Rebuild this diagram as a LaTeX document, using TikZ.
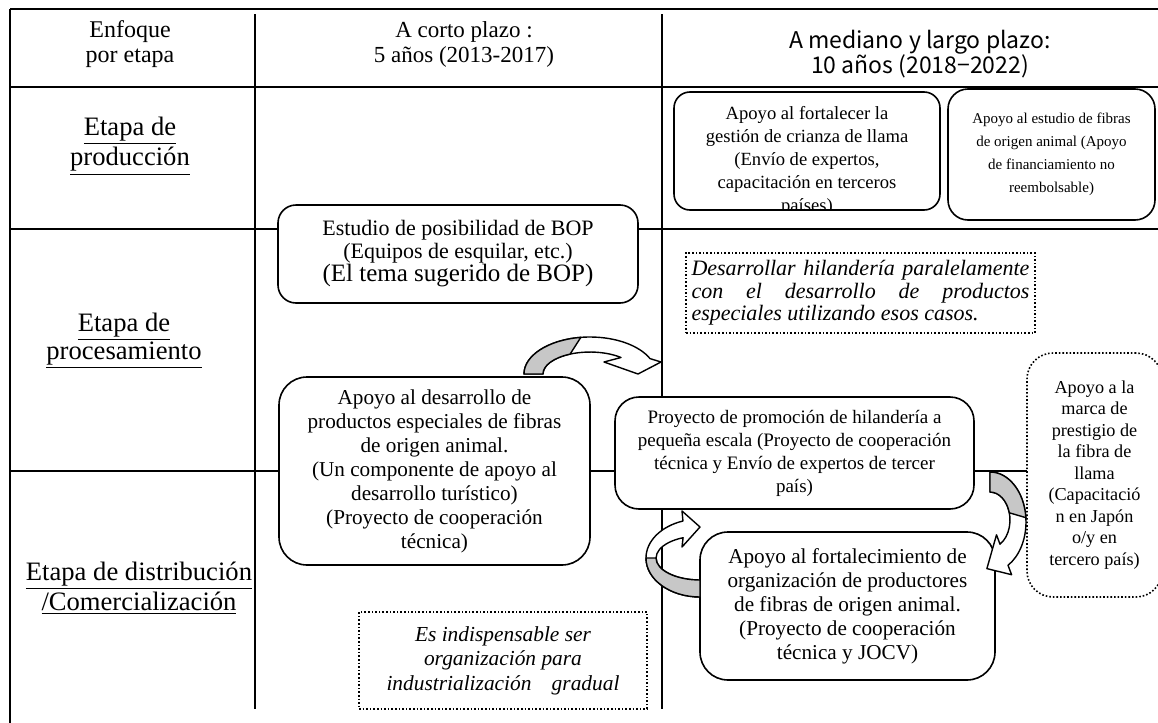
\documentclass[tikz,border=0pt]{standalone}
\usepackage{fontspec}
\setmainfont{Liberation Serif}
\newfontfamily\gothfont{Noto Sans CJK JP}

\begin{document}
\begin{tikzpicture}[x=0.5pt,y=-0.5pt,
  frame/.style={line width=0.9pt},
  rbox/.style={draw,line width=0.8pt,fill=white,rounded corners=#1,inner sep=0pt,align=center},
  rbox/.default=8pt,
  notebox/.style={draw,densely dotted,line width=0.8pt,fill=white,inner sep=0pt,align=center},
  stage/.style={font=\fontsize{13.3}{14}\selectfont,align=center},
  ribbon/.style={draw,line width=0.7pt,fill=white,line join=round},
  back/.style={draw,line width=0.7pt,fill=black!22,line join=round}]

\useasboundingbox (0,0) rectangle (1158,723);

% cuadro
\draw[frame] (10,9) -- (1158,9);
\draw[frame] (10,9) -- (10,723);
\draw[frame] (255,14) -- (255,709);
\draw[frame] (662,14) -- (662,709);
\draw[frame] (10,87) -- (1158,87);
\draw[frame] (10,229) -- (1158,229);
\draw[frame] (10,471) -- (1158,471);

% encabezados
\node[font=\fontsize{12}{12.5}\selectfont,align=center] (enfoque) at (130,44) {Enfoque\\por etapa};
\node[font=\fontsize{11.5}{12.5}\selectfont,align=center] (corto) at (464,44) {A corto plazo :\\5 años (2013-2017)};
\node[font=\gothfont\fontsize{11.5}{12.5}\selectfont,align=center] (largo) at (920,54) {A mediano y largo plazo:\\10 años (2018−2022)};

% etapas
\node[stage] (prod) at (130,146) {\underline{Etapa de}\\\underline{producción}};
\node[stage] (proc) at (124,341) {\underline{Etapa de}\\\underline{procesamiento}};
\node[stage] (dist) at (139,588) {\underline{Etapa de distribución}\\\underline{/Comercialización}};

% produccion
\node[rbox, minimum width=133pt, minimum height=59pt] (llama) at (807,151) {};
\begin{scope}
\clip[rounded corners=8pt] (llama.south west) rectangle (llama.north east);
\node[font=\fontsize{9.3}{11.5}\selectfont,align=center] (llamatxt) at (807,161) {Apoyo al fortalecer la\\gestión de crianza de llama\\(Envío de expertos,\\capacitación en terceros\\países)};
\end{scope}
\node[rbox=10pt, minimum width=103.5pt, minimum height=65.5pt, font=\fontsize{7.5}{11.5}\selectfont] (fibra) at (1051.5,154.5) {Apoyo al estudio de fibras\\de origen animal (Apoyo\\de financiamiento no\\reembolsable)};

% procesamiento
\node[rbox=9pt, minimum width=180pt, minimum height=49pt, font=\fontsize{11}{11.5}\selectfont] (bop) at (458,254) {Estudio de posibilidad de BOP\\(Equipos de esquilar, etc.)\\{\fontsize{12.5}{12.5}\selectfont (El tema sugerido de BOP)}};
\node[notebox, minimum width=174.5pt, minimum height=40pt, font=\itshape\fontsize{11}{11.25}\selectfont, align=left] (hilanote) at (860.5,293) {\makebox[169pt][s]{Desarrollar hilandería paralelamente}\\\makebox[169pt][s]{con el desarrollo de productos}\\especiales utilizando esos casos.};
\node[rbox=14pt, minimum width=155.5pt, minimum height=94pt, font=\fontsize{10.6}{12}\selectfont] (especial) at (434.5,471) {Apoyo al desarrollo de\\productos especiales de fibras\\de origen animal.\\(Un componente de apoyo al\\desarrollo turístico)\\(Proyecto de cooperación\\técnica)};
\node[rbox=12pt, minimum width=179.5pt, minimum height=56pt, font=\fontsize{9.5}{11.5}\selectfont] (hilanderia) at (794.5,453) {Proyecto de promoción de hilandería a\\pequeña escala (Proyecto de cooperación\\técnica y Envío de expertos de tercer\\país)};

% distribucion
\node[rbox=14pt, minimum width=147.5pt, minimum height=74pt, font=\fontsize{10.6}{12}\selectfont] (organizacion) at (847.5,606) {Apoyo al fortalecimiento de\\organización de productores\\de fibras de origen animal.\\(Proyecto de cooperación\\técnica y JOCV)};
\node[notebox, rounded corners=13pt, minimum width=67.5pt, minimum height=122pt, font=\fontsize{9.1}{10.75}\selectfont] (marca) at (1094.5,475) {Apoyo a la\\marca de\\prestigio de\\la fibra de\\llama\\(Capacitació\\n en Japón\\o/y en\\tercero país)};
\node[notebox, minimum width=144pt, minimum height=48.5pt, font=\itshape\fontsize{10.7}{12.25}\selectfont] (orgnote) at (503,660.5) {Es indispensable ser\\organización para\\\hbox to 116.5pt{industrialización\hfill gradual}};

% flechas curvas
\path[ribbon] (524,374) arc[start angle=180,end angle=335.4,x radius=66,y radius=37] -- (661,362) -- (638,374) -- (604,362) -- (621,357.5) arc[start angle=311.3,end angle=180,x radius=47,y radius=22] -- cycle;
\path[back] (524,374) arc[start angle=180,end angle=262,x radius=66,y radius=37] -- (570.1,354.1) arc[start angle=245,end angle=180,x radius=47,y radius=22] -- cycle;

\path[ribbon] (700,597) arc[start angle=90,end angle=251.6,x radius=54,y radius=39] -- (682,511) -- (700,527) -- (682,547) -- (683.1,537.7) arc[start angle=247.3,end angle=90,x radius=44,y radius=22] -- cycle;
\path[back] (700,597) arc[start angle=90,end angle=180,x radius=54,y radius=39] -- (656,558) arc[start angle=180,end angle=90,x radius=44,y radius=22] -- cycle;

\path[ribbon] (990,472) arc[start angle=270,end angle=420,x radius=36,y radius=50] -- (1011.6,574.7) -- (986.9,568.6) -- (996.5,534.8) -- (1000,544.2) arc[start angle=420,end angle=270,x radius=20,y radius=28] -- cycle;
\path[back] (990,472) arc[start angle=270,end angle=355,x radius=36,y radius=50] -- (1009.3,512.8) arc[start angle=345,end angle=270,x radius=20,y radius=28] -- cycle;

\end{tikzpicture}
\end{document}
